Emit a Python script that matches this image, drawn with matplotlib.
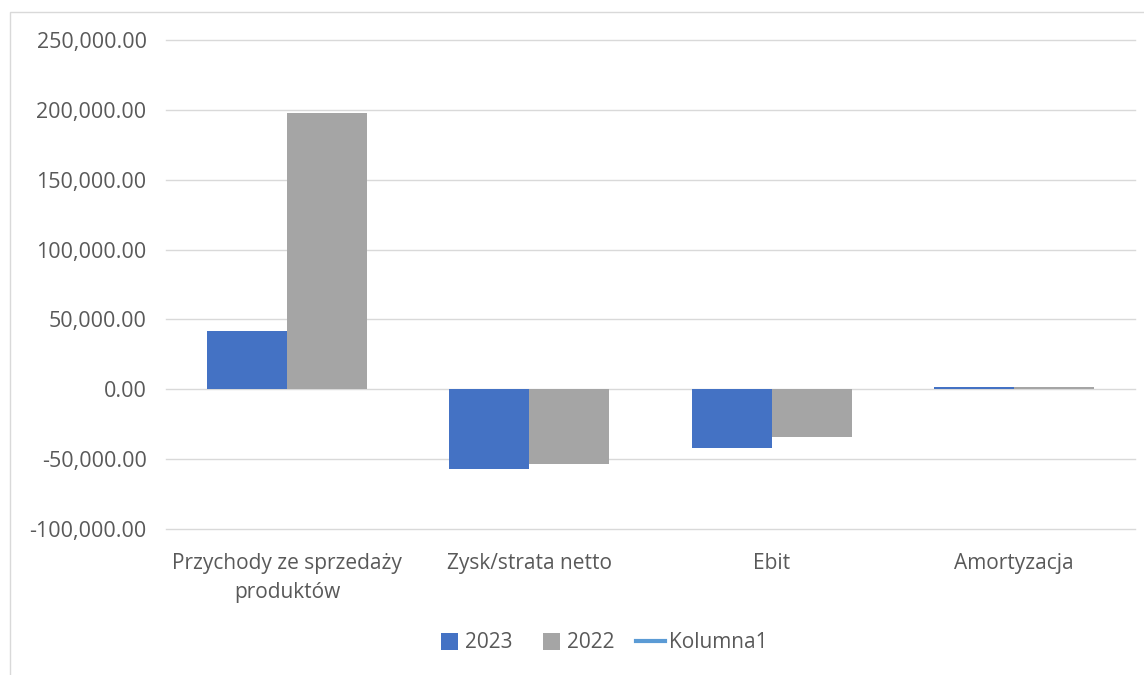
import matplotlib
matplotlib.use("Agg")
import matplotlib.pyplot as plt
from matplotlib.patches import Rectangle, Patch
from matplotlib.lines import Line2D
from matplotlib.legend_handler import HandlerPatch
from matplotlib.ticker import FuncFormatter
import numpy as np

categories = ["Przychody ze sprzedaży\nproduktów", "Zysk/strata netto", "Ebit", "Amortyzacja"]
values_2023 = [41500, -57000, -42000, 1500]
values_2022 = [198000, -53500, -34000, 1300]
series_names = ["2023", "2022", "Kolumna1"]
yticks = [-100000, -50000, 0, 50000, 100000, 150000, 200000, 250000]

plt.rcParams['font.family'] = ['Open Sans', 'DejaVu Sans']
text_color = "#595959"
FS = 15

fig = plt.figure(figsize=(11.44, 6.75), dpi=100)
W, H = 1144, 675
ax = fig.add_axes([166 / W, 1 - 529 / H, (1135 - 166) / W, (529 - 40) / H])

# border
fig.patches.append(Rectangle((10 / W, -0.05), 1.2, (1 - 12 / H) + 0.05,
                             transform=fig.transFigure, fill=False,
                             edgecolor="#D9D9D9", linewidth=1))

x = np.arange(len(categories))
bw = 0.33
ax.bar(x - bw / 2, values_2023, bw, color="#4472C4", zorder=3)
ax.bar(x + bw / 2, values_2022, bw, color="#A5A5A5", zorder=3)

ax.set_xlim(-0.5, len(categories) - 0.5)
ax.set_ylim(yticks[0], yticks[-1])
ax.set_yticks(yticks)
ax.yaxis.set_major_formatter(FuncFormatter(lambda v, p: f"{v:,.2f}"))
for yt in yticks:
    ax.axhline(yt, color="#D9D9D9", linewidth=1, zorder=0, clip_on=False)
ax.set_xticks(x)
ax.set_xticklabels(categories, fontsize=FS, color=text_color, linespacing=1.5)
for s in ax.spines.values():
    s.set_visible(False)
ax.tick_params(axis="y", length=0, pad=14, labelsize=FS + 0.5, labelcolor=text_color)
ax.tick_params(axis="x", length=0, pad=17)


def square_patch(legend, orig_handle, xdescent, ydescent, width, height, fontsize):
    side = 17 * 72 / 100
    off = (width - side) * 0.72
    return Rectangle((-xdescent + off, -ydescent + (height - side) / 2), side, side)


handles = [Patch(facecolor="#4472C4"), Patch(facecolor="#A5A5A5"),
           Line2D([], [], color="#5B9BD5", linewidth=3)]
fig.legend(handles, series_names, loc="center", bbox_to_anchor=(600 / W, 1 - 643 / H),
           ncol=3, frameon=False, fontsize=FS, labelcolor=text_color,
           handlelength=1.35, handleheight=0.8, handletextpad=0.2, columnspacing=1.06,
           handler_map={Patch: HandlerPatch(patch_func=square_patch)})

fig.savefig("out.png", dpi=100)
